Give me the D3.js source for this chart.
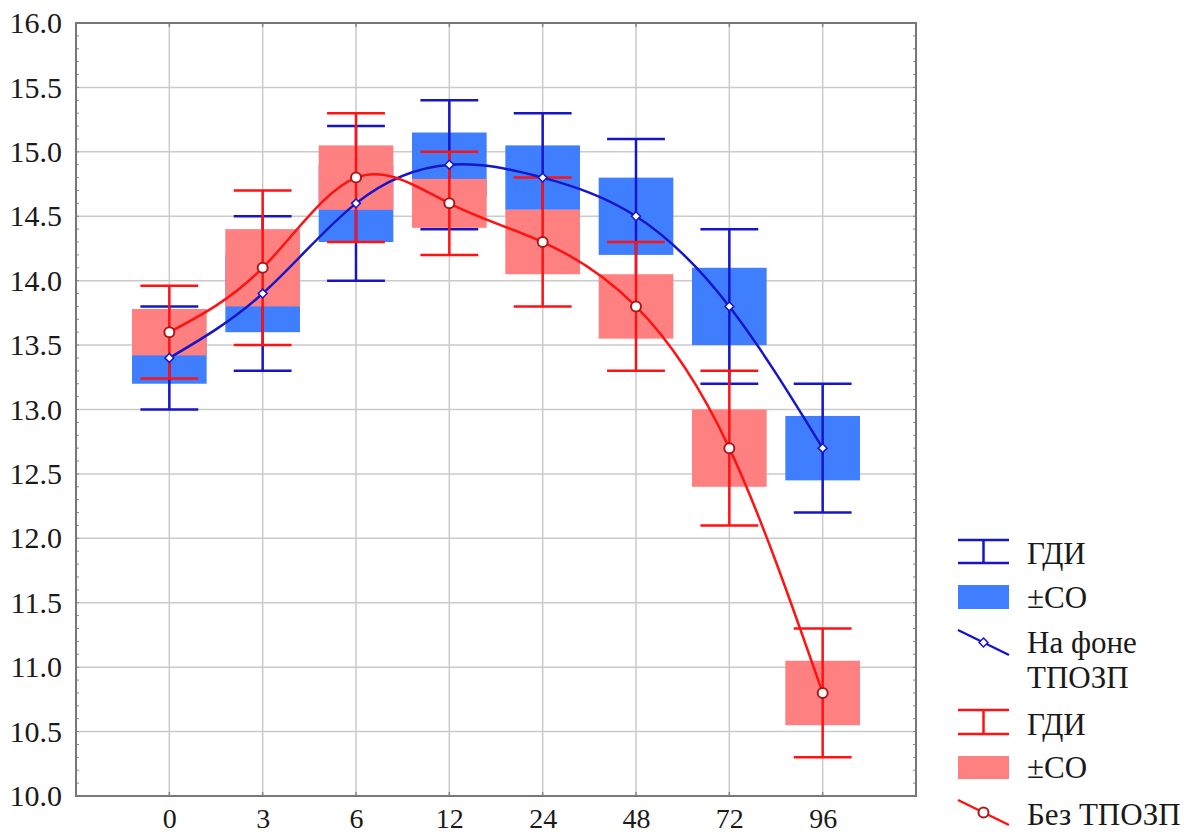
<!DOCTYPE html>
<html>
<head>
<meta charset="utf-8">
<script src="https://cdn.jsdelivr.net/npm/d3@7"></script>
<style>
  body { margin: 0; background: #fff; }
</style>
</head>
<body>
<svg id="chart" width="1184" height="836"></svg>
<script>
// categories (hours)
const times = ["0", "3", "6", "12", "24", "48", "72", "96"];

// "На фоне ТПОЗП" (blue)
const blueMean   = [13.4, 13.9, 14.6, 14.9, 14.8, 14.5, 13.8, 12.7];
const blueSdLow  = [13.2, 13.6, 14.3, 14.65, 14.55, 14.2, 13.5, 12.45];
const blueSdHigh = [13.6, 14.2, 14.9, 15.15, 15.05, 14.8, 14.1, 12.95];
const blueCiLow  = [13.0, 13.3, 14.0, 14.4, 14.3, 13.9, 13.2, 12.2];
const blueCiHigh = [13.8, 14.5, 15.2, 15.4, 15.3, 15.1, 14.4, 13.2];

// "Без ТПОЗП" (red)
const redMean   = [13.6, 14.1, 14.8, 14.6, 14.3, 13.8, 12.7, 10.8];
const redSdLow  = [13.42, 13.8, 14.55, 14.41, 14.05, 13.55, 12.4, 10.55];
const redSdHigh = [13.78, 14.4, 15.05, 14.79, 14.55, 14.05, 13.0, 11.05];
const redCiLow  = [13.24, 13.5, 14.3, 14.2, 13.8, 13.3, 12.1, 10.3];
const redCiHigh = [13.96, 14.7, 15.3, 15.0, 14.8, 14.3, 13.3, 11.3];

const yTicks = d3.range(10, 16.01, 0.5);

var svg = d3.select("#chart");

const plotL = 76, plotR = 916, plotT = 23, plotB = 796;
const serif = '"Liberation Serif", Tinos, "Times New Roman", serif';

const x = d3.scalePoint().domain(times).range([plotL, plotR]).padding(1);
const y = d3.scaleLinear().domain([10, 16]).range([plotB, plotT]);
const step = x.step();
const boxW = step * 0.8, capW = step * 0.62;

const blueDark = "#1616c8", blueFill = "#3f7fff";
const redDark = "#ff1212", redFill = "#ff8080";

// grid
svg.append("g")
  .selectAll("line")
  .data(yTicks)
  .join("line")
  .attr("x1", plotL).attr("x2", plotR)
  .attr("y1", d => y(d)).attr("y2", d => y(d))
  .attr("stroke", "#cacaca").attr("stroke-width", 1.5);

svg.append("g")
  .selectAll("line")
  .data(times)
  .join("line")
  .attr("x1", d => x(d)).attr("x2", d => x(d))
  .attr("y1", plotT).attr("y2", plotB)
  .attr("stroke", "#cacaca").attr("stroke-width", 1.5);

// minor ticks on left and right
const minor = y.ticks(60);
svg.append("g").selectAll("line").data(minor).join("line")
  .attr("x1", plotL).attr("x2", plotL + 3)
  .attr("y1", d => y(d)).attr("y2", d => y(d))
  .attr("stroke", "#888").attr("stroke-width", 1);
svg.append("g").selectAll("line").data(minor).join("line")
  .attr("x1", plotR - 3).attr("x2", plotR)
  .attr("y1", d => y(d)).attr("y2", d => y(d))
  .attr("stroke", "#888").attr("stroke-width", 1);
// category ticks top and bottom
svg.append("g").selectAll("line").data(times).join("line")
  .attr("x1", d => x(d)).attr("x2", d => x(d))
  .attr("y1", plotB - 4).attr("y2", plotB)
  .attr("stroke", "#888").attr("stroke-width", 1.5);
svg.append("g").selectAll("line").data(times).join("line")
  .attr("x1", d => x(d)).attr("x2", d => x(d))
  .attr("y1", plotT).attr("y2", plotT + 4)
  .attr("stroke", "#888").attr("stroke-width", 1.5);

// frame
svg.append("rect")
  .attr("x", plotL).attr("y", plotT)
  .attr("width", plotR - plotL).attr("height", plotB - plotT)
  .attr("fill", "none").attr("stroke", "#777").attr("stroke-width", 2);

// axes labels
svg.append("g")
  .attr("transform", "translate(" + plotL + ",0)")
  .call(d3.axisLeft(y).tickValues(yTicks).tickFormat(d3.format(".1f")).tickSize(0).tickPadding(14))
  .call(g => g.select(".domain").remove())
  .call(g => g.attr("font-family", serif).attr("font-size", 30))
  .selectAll("text")
  .attr("fill", "#1a1a1a");

svg.append("g")
  .attr("transform", "translate(0," + plotB + ")")
  .call(d3.axisBottom(x).tickSize(0).tickPadding(12))
  .call(g => g.select(".domain").remove())
  .call(g => g.attr("font-family", serif).attr("font-size", 28))
  .selectAll("text")
  .attr("fill", "#1a1a1a");

function drawBoxes(sdLow, sdHigh, fill) {
  svg.append("g")
    .selectAll("rect")
    .data(times)
    .join("rect")
    .attr("x", d => x(d) - boxW / 2)
    .attr("y", (d, i) => y(sdHigh[i]))
    .attr("width", boxW)
    .attr("height", (d, i) => y(sdLow[i]) - y(sdHigh[i]))
    .attr("fill", fill);
}

function drawWhiskers(ciLow, ciHigh, color) {
  var g = svg.append("g").attr("stroke", color).attr("stroke-width", 2.5);
  g.selectAll(".v").data(times).join("line").attr("class", "v")
    .attr("x1", d => x(d)).attr("x2", d => x(d))
    .attr("y1", (d, i) => y(ciLow[i])).attr("y2", (d, i) => y(ciHigh[i]));
  g.selectAll(".lo").data(times).join("line").attr("class", "lo")
    .attr("x1", d => x(d) - capW / 2).attr("x2", d => x(d) + capW / 2)
    .attr("y1", (d, i) => y(ciLow[i])).attr("y2", (d, i) => y(ciLow[i]));
  g.selectAll(".hi").data(times).join("line").attr("class", "hi")
    .attr("x1", d => x(d) - capW / 2).attr("x2", d => x(d) + capW / 2)
    .attr("y1", (d, i) => y(ciHigh[i])).attr("y2", (d, i) => y(ciHigh[i]));
}

// blue boxes and whiskers, then red on top
drawBoxes(blueSdLow, blueSdHigh, blueFill);
drawWhiskers(blueCiLow, blueCiHigh, blueDark);
drawBoxes(redSdLow, redSdHigh, redFill);
drawWhiskers(redCiLow, redCiHigh, redDark);

// spline lines through means
const line = d3.line().curve(d3.curveNatural);
svg.append("path")
  .attr("d", line(times.map((t, i) => [x(t), y(blueMean[i])])))
  .attr("fill", "none").attr("stroke", blueDark).attr("stroke-width", 2.5);
svg.append("path")
  .attr("d", line(times.map((t, i) => [x(t), y(redMean[i])])))
  .attr("fill", "none").attr("stroke", redDark).attr("stroke-width", 2.5);

// markers
const diamond = d3.symbol().type(d3.symbolDiamond2).size(50);
svg.append("g").selectAll("path").data(times).join("path")
  .attr("transform", (d, i) => "translate(" + x(d) + "," + y(blueMean[i]) + ")")
  .attr("d", diamond)
  .attr("fill", "#fff").attr("stroke", blueDark).attr("stroke-width", 1.5);
svg.append("g").selectAll("circle").data(times).join("circle")
  .attr("cx", d => x(d)).attr("cy", (d, i) => y(redMean[i]))
  .attr("r", 5).attr("fill", "#fff").attr("stroke", "#a81a1a").attr("stroke-width", 2);

// legend
var lg = svg.append("g").attr("font-family", serif).attr("font-size", 31).attr("fill", "#1a1a1a");
const lx0 = 958, lx1 = 1009, lxm = (lx0 + lx1) / 2, tx = 1027;

function legendWhisker(y0, y1, color) {
  var g = lg.append("g").attr("stroke", color).attr("stroke-width", 2.5);
  g.append("line").attr("x1", lx0).attr("x2", lx1).attr("y1", y0).attr("y2", y0);
  g.append("line").attr("x1", lx0).attr("x2", lx1).attr("y1", y1).attr("y2", y1);
  g.append("line").attr("x1", lxm).attr("x2", lxm).attr("y1", y0).attr("y2", y1);
}
function legendText(ty, str) {
  lg.append("text").attr("x", tx).attr("y", ty).text(str);
}

legendWhisker(540, 563, blueDark);
legendText(564, "ГДИ");
lg.append("rect").attr("x", lx0).attr("y", 585).attr("width", lx1 - lx0).attr("height", 24).attr("fill", blueFill);
legendText(608, "±СО");
lg.append("line").attr("x1", lx0).attr("y1", 630).attr("x2", lx1).attr("y2", 655)
  .attr("stroke", blueDark).attr("stroke-width", 2.5);
lg.append("path").attr("transform", "translate(" + lxm + ",642.5)").attr("d", diamond)
  .attr("fill", "#fff").attr("stroke", blueDark).attr("stroke-width", 1.5);
legendText(653, "На фоне");
legendText(688, "ТПОЗП");

legendWhisker(710, 734, redDark);
legendText(735, "ГДИ");
lg.append("rect").attr("x", lx0).attr("y", 756).attr("width", lx1 - lx0).attr("height", 23).attr("fill", redFill);
legendText(778, "±СО");
lg.append("line").attr("x1", lx0).attr("y1", 800).attr("x2", lx1).attr("y2", 825)
  .attr("stroke", redDark).attr("stroke-width", 2.5);
lg.append("circle").attr("cx", lxm).attr("cy", 812.5).attr("r", 5)
  .attr("fill", "#fff").attr("stroke", "#a81a1a").attr("stroke-width", 2);
legendText(825, "Без ТПОЗП");
</script>
</body>
</html>
